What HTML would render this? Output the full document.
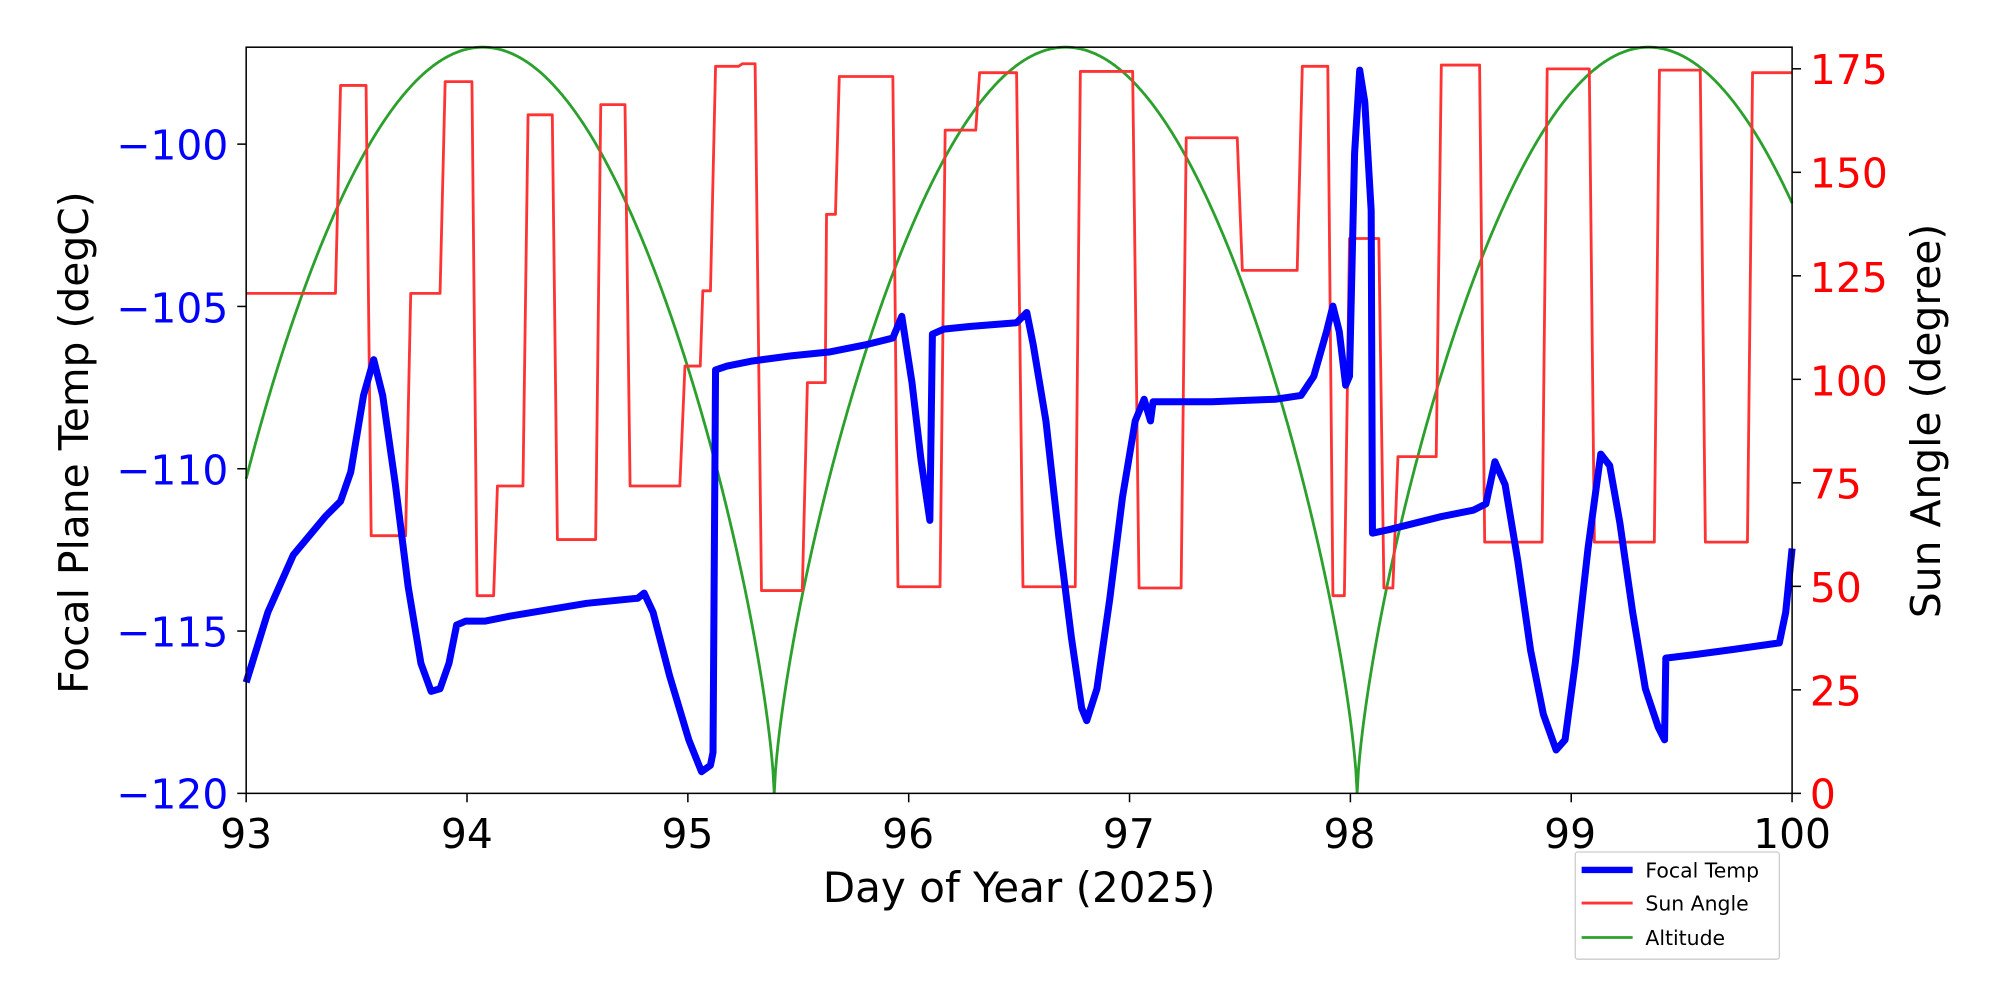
<!DOCTYPE html>
<html><head><meta charset="utf-8"><style>
html,body{margin:0;padding:0;background:#fff;}
svg{display:block;}
text{font-family:"DejaVu Sans","Liberation Sans",sans-serif;}
</style></head><body>
<svg id="s" width="2000" height="1000" viewBox="0 0 1568 784" xmlns="http://www.w3.org/2000/svg">
<rect width="1568" height="784" fill="#fff"/>
<path id="alt" fill="none" stroke="#2ca02c" stroke-width="2.2"/>
<path fill="none" stroke="#ff3333" stroke-width="2.2" stroke-linejoin="round" d="M193,230 H263 L267,67 H287 L291,420 H318 L322,230 H345 L349,64 H370 L374,467 H387 L390,381 H410 L414,90 H433 L437,423 H467 L471,82 H490 L494,381 H533 L537,287 H549 L551,228 H557 L561,52 H579 L582,50 H592 L597,463 H629 L633,300 H647 L648,168 H655 L658,60 H700 L704,460 H737 L741,102 H765 L768,57 H797 L802,460 H843 L847,56 H888 L893,461 H926 L930,108 H970 L974,212 H1017 L1021,52 H1041 L1045,467 H1054 L1058,187 H1081 L1085,461 H1092 L1096,358 H1126 L1130,51 H1160 L1164,425 H1209 L1213,54 H1246 L1250,425 H1297 L1301,55 H1333 L1337,425 H1370 L1374,57 H1405"/>
<polyline fill="none" stroke="#0000ff" stroke-width="5.5" stroke-linejoin="round" points="193,535 210,480 230,435 255,405 267,393 275,370 285,310 293,282 300,310 310,380 320,460 330,520 338,542 345,540 352,520 358,490 365,487 380,487 400,483 430,478 460,473 500,469 505,465 512,480 525,530 540,580 550,605 557,600 559,590 561,290 570,287 590,283 620,279 650,276 680,270 700,265 707,248 715,300 722,360 729,408 731,262 740,258 760,256 797,253 805,245 810,270 820,330 830,420 840,500 848,555 852,565 860,540 870,470 880,390 890,330 897,313 902,330 904,315 950,315 1000,313 1020,310 1030,295 1040,260 1045,240 1050,260 1055,302 1058,295 1062,120 1066,55 1070,80 1075,165 1076,418 1090,415 1110,410 1130,405 1155,400 1165,395 1172,362 1180,380 1190,440 1200,510 1210,560 1220,588 1227,580 1235,520 1245,430 1255,356 1262,365 1270,410 1280,480 1290,540 1300,570 1305,580 1306,516 1330,513 1360,509 1395,504 1400,480 1405,430"/>
<rect x="193" y="37" width="1212" height="585" fill="none" stroke="#000" stroke-width="1.2"/>
<g id="ticks" stroke-width="1.2"></g>
<g font-size="32" fill="#000" text-anchor="middle">
<text x="193" y="665">93</text><text x="366" y="665">94</text><text x="539" y="665">95</text><text x="712" y="665">96</text><text x="885" y="665">97</text><text x="1058" y="665">98</text><text x="1231" y="665">99</text><text x="1405" y="665">100</text>
</g>
<g font-size="32" fill="#0000ff" text-anchor="end">
<text x="179" y="125">−100</text><text x="179" y="253">−105</text><text x="179" y="380">−110</text><text x="179" y="507">−115</text><text x="179" y="634">−120</text>
</g>
<g font-size="32" fill="#ff0000" text-anchor="start">
<text x="1419" y="634">0</text><text x="1419" y="553">25</text><text x="1419" y="472">50</text><text x="1419" y="391">75</text><text x="1419" y="310">100</text><text x="1419" y="229">125</text><text x="1419" y="147">150</text><text x="1419" y="66">175</text>
</g>
<text x="799" y="707" font-size="33" text-anchor="middle">Day of Year (2025)</text>
<text transform="translate(69,347) rotate(-90)" font-size="32" text-anchor="middle">Focal Plane Temp (degC)</text>
<text transform="translate(1521,330) rotate(-90)" font-size="32" text-anchor="middle">Sun Angle (degree)</text>
<rect x="1235" y="668" width="160" height="84" fill="#fff" stroke="#ccc" stroke-width="1" rx="2"/>
<line x1="1240" y1="682" x2="1280" y2="682" stroke="#0000ff" stroke-width="5"/>
<line x1="1240" y1="708" x2="1280" y2="708" stroke="#ff3333" stroke-width="2.2"/>
<line x1="1240" y1="735" x2="1280" y2="735" stroke="#2ca02c" stroke-width="2.2"/>
<g font-size="16"><text x="1290" y="688">Focal Temp</text><text x="1290" y="714">Sun Angle</text><text x="1290" y="741">Altitude</text></g>
</svg>
<script>
(function(){
var d="";
for(var x=193;x<=1405;x+=1){
 var s=Math.abs(Math.sin(Math.PI*(x-607)/457));
 var y=622-585*Math.pow(s,0.7);
 d+=(x==193?"M":"L")+x+","+y.toFixed(1);
}
document.getElementById("alt").setAttribute("d",d);
var g=document.getElementById("ticks"),h="";
for(var i=0;i<8;i++){var x=193+i*173.14;h+='<line x1="'+x+'" y1="622" x2="'+x+'" y2="629" stroke="#000"/>';}
for(var i=0;i<5;i++){var y=113+i*127.25;h+='<line x1="186" y1="'+y+'" x2="193" y2="'+y+'" stroke="#000"/>';}
for(var i=0;i<8;i++){var y=622-i*25*3.246;h+='<line x1="1405" y1="'+y+'" x2="1412" y2="'+y+'" stroke="#000"/>';}
g.innerHTML=h;
})();
</script>
</body></html>
